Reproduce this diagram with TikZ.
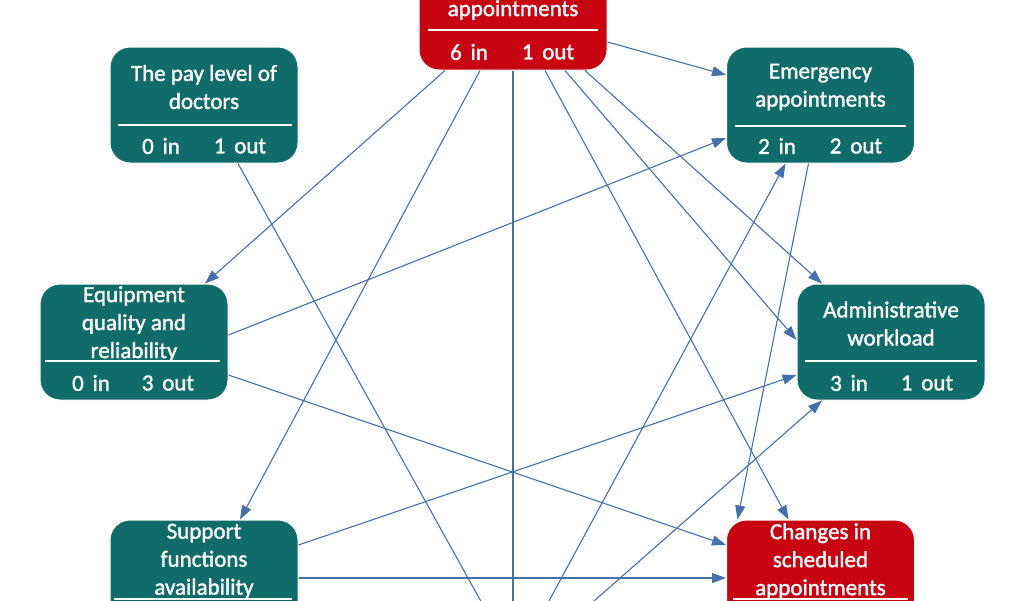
\documentclass[tikz,border=0pt]{standalone}
\usepackage{fontspec}
\setmainfont{Carlito}
\newfontfamily\lblfont[FakeBold=1.5]{Carlito}
\usetikzlibrary{arrows.meta,calc}
\definecolor{tealbox}{RGB}{16,108,106}
\definecolor{redfill}{RGB}{200,4,18}
\definecolor{edgeblue}{RGB}{68,112,172}
\newcommand{\gapsp}{\hspace{0.38em}}
\begin{document}
\begin{tikzpicture}[x=1pt,y=-1pt,
  box/.style={draw=white, line width=1pt, rounded corners=20pt, minimum width=188pt, minimum height=116pt, inner sep=0pt, fill=tealbox},
  redbox/.style={box, fill=redfill},
  lbl/.style={text=white, font=\lblfont\fontsize{23}{28}\selectfont, align=center, inner sep=0pt},
  divider/.style={draw=white, line width=1.3pt},
  link/.style={draw=edgeblue, line width=1.1pt, -{Triangle[length=14pt,width=10pt]}}]
\useasboundingbox (0,0) rectangle (1024,600);
\clip (0,0) rectangle (1024,600);

% boxes
\node[box] (P) at (204,105) {};
\node[box] (E) at (820.5,105) {};
\node[box] (Q) at (134,342) {};
\node[box] (A) at (891,342) {};
\node[box] (S) at (204,578) {};
\node[redbox] (C) at (820.5,578) {};
\node[redbox] (T) at (513,12) {};
\node[box] (B) at (513,678) {};

% texts
\node[lbl] (P-title) at (204,87) {The pay level of\\doctors};
\draw[divider] (118,125) -- (292,125);
\node[lbl] (P-in) at (161,146) {0\gapsp in};
\node[lbl] (P-out) at (240,146) {1\gapsp out};

\node[lbl] (E-title) at (820.5,87) {Emergency\\appointments};
\draw[divider] (735,126) -- (906,126);
\node[lbl] (E-in) at (777,146) {2\gapsp in};
\node[lbl] (E-out) at (856,146) {2\gapsp out};

\node[lbl] (Q-title) at (134,324) {Equipment\\quality and\\reliability};
\draw[divider] (45,361) -- (220,361);
\node[lbl] (Q-in) at (91,383) {0\gapsp in};
\node[lbl] (Q-out) at (168,383) {3\gapsp out};

\node[lbl] (A-title) at (891,323.5) {Administrative\\workload};
\draw[divider] (805,361) -- (977,361);
\node[lbl] (A-in) at (849,383) {3\gapsp in};
\node[lbl] (A-out) at (927,383) {1\gapsp out};

\node[lbl] (S-title) at (204,561) {Support\\functions\\availability};
\draw[divider] (114,599) -- (292,599);

\node[lbl] (C-title) at (820.5,561) {Changes in\\scheduled\\appointments};
\draw[divider] (733,599) -- (908,599);

\node[lbl] (T-title) at (513,10) {appointments};
\draw[divider] (428,30) -- (598,30);
\node[lbl] (T-in) at (469,52) {6\gapsp in};
\node[lbl] (T-out) at (548,52) {1\gapsp out};

% connectors
\draw[link] ([yshift=-30pt]T.east) -- ([yshift=30pt]E.west);
\draw[link] ([xshift=-68pt]T.south) -- ([xshift=71pt]Q.north);
\draw[link] ([xshift=-33pt]T.south) -- ([xshift=36pt]S.north);
\draw[link] (T.south) -- (B.north);
\draw[link] ([xshift=32pt]T.south) -- ([xshift=-32pt]C.north);
\draw[link] ([xshift=52pt]T.south) -- ([yshift=2pt]A.west);
\draw[link] ([xshift=72pt]T.south) -- ([xshift=-69pt]A.north);
\draw[link] ([xshift=34pt]P.south) -- ([xshift=-22pt]B.north);
\draw[link] ([yshift=7pt]Q.east) -- ([yshift=-33pt]E.west);
\draw[link] ([yshift=-33pt]Q.east) -- ([yshift=33pt]C.west);
\draw[link] ([yshift=33pt]S.east) -- ([yshift=-33pt]A.west);
\draw[link] (S.east) -- (C.west);
\draw[link] ([xshift=-12pt]E.south) -- ([xshift=-83pt]C.north);
\draw[link] ([xshift=26pt]B.north) -- ([xshift=-35pt]E.south);
\draw[link] ([xshift=60pt]B.north) -- ([xshift=-69pt]A.south);
\end{tikzpicture}
\end{document}
